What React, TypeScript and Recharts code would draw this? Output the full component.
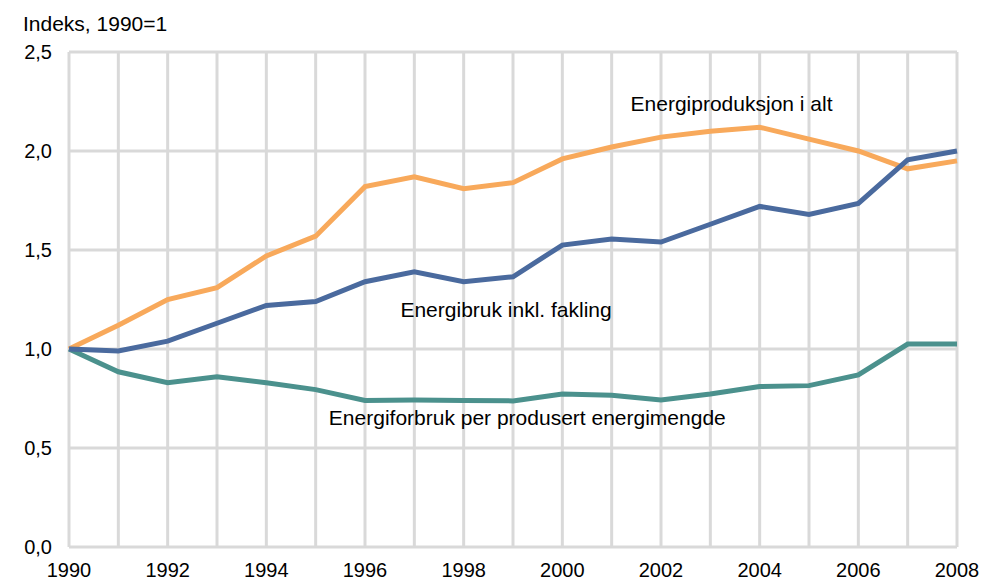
import { CartesianGrid, Line, LineChart, ReferenceDot, XAxis, YAxis } from 'recharts';

const years = [
    1990, 1991, 1992, 1993, 1994, 1995, 1996, 1997, 1998, 1999,
    2000, 2001, 2002, 2003, 2004, 2005, 2006, 2007, 2008,
];

// Energiproduksjon i alt
const produksjon = [
    1.0, 1.12, 1.25, 1.31, 1.47, 1.57, 1.82, 1.87, 1.81, 1.84,
    1.96, 2.02, 2.07, 2.1, 2.12, 2.06, 2.0, 1.91, 1.95,
];

// Energibruk inkl. fakling
const energibruk = [
    1.0, 0.99, 1.04, 1.13, 1.22, 1.24, 1.34, 1.39, 1.34, 1.365,
    1.525, 1.555, 1.54, 1.63, 1.72, 1.68, 1.735, 1.955, 2.0,
];

// Energiforbruk per produsert energimengde
const perEnhet = [
    1.0, 0.885, 0.83, 0.86, 0.83, 0.795, 0.74, 0.742, 0.74, 0.738,
    0.773, 0.766, 0.742, 0.773, 0.81, 0.815, 0.869, 1.025, 1.025,
];

const yTicks = [0, 0.5, 1, 1.5, 2, 2.5];

const data = years.map((year, i) => ({
    year,
    produksjon: produksjon[i],
    energibruk: energibruk[i],
    perEnhet: perEnhet[i],
}));

const font = '"Liberation Sans", Arial, sans-serif';

const labelStyle = (value: string) => ({
    value,
    position: 'center' as const,
    fill: '#000',
    fontSize: 21,
    fontFamily: font,
});

export default function App() {
    return (
        <div style={{ position: 'absolute', left: 0, top: 0, width: 982, height: 581, background: '#fff' }}>
            <div
                style={{
                    position: 'absolute',
                    left: 23,
                    top: 12,
                    fontFamily: font,
                    fontSize: 21,
                    color: '#000',
                    whiteSpace: 'nowrap',
                }}
            >
                Indeks, 1990=1
            </div>
            <LineChart
                width={982}
                height={581}
                data={data}
                margin={{ top: 52, right: 25, left: 0, bottom: 0 }}
            >
                <CartesianGrid stroke="#d9d9d9" strokeWidth={3} />
                <XAxis
                    dataKey="year"
                    type="number"
                    domain={[1990, 2008]}
                    ticks={years}
                    interval={0}
                    tickFormatter={(v: number) => (v % 2 === 0 ? String(v) : '')}
                    axisLine={false}
                    tickLine={false}
                    tickMargin={10}
                    height={34}
                    tick={{ fill: '#000', fontSize: 20, fontFamily: font }}
                />
                <YAxis
                    domain={[0, 2.5]}
                    ticks={yTicks}
                    width={69}
                    axisLine={false}
                    tickLine={false}
                    tickMargin={11}
                    tickFormatter={(v: number) => v.toFixed(1).replace('.', ',')}
                    tick={{ fill: '#000', fontSize: 20, fontFamily: font }}
                />
                <Line
                    dataKey="perEnhet"
                    stroke="#4b918d"
                    strokeWidth={5}
                    dot={false}
                    isAnimationActive={false}
                />
                <Line
                    dataKey="produksjon"
                    stroke="#f8a95b"
                    strokeWidth={5}
                    dot={false}
                    isAnimationActive={false}
                />
                <Line
                    dataKey="energibruk"
                    stroke="#4a6a9e"
                    strokeWidth={5}
                    dot={false}
                    isAnimationActive={false}
                />
                <ReferenceDot x={2003.43} y={2.242} r={0} label={labelStyle('Energiproduksjon i alt')} />
                <ReferenceDot x={1998.86} y={1.197} r={0} label={labelStyle('Energibruk inkl. fakling')} />
                <ReferenceDot
                    x={1999.29}
                    y={0.652}
                    r={0}
                    label={labelStyle('Energiforbruk per produsert energimengde')}
                />
            </LineChart>
        </div>
    );
}
